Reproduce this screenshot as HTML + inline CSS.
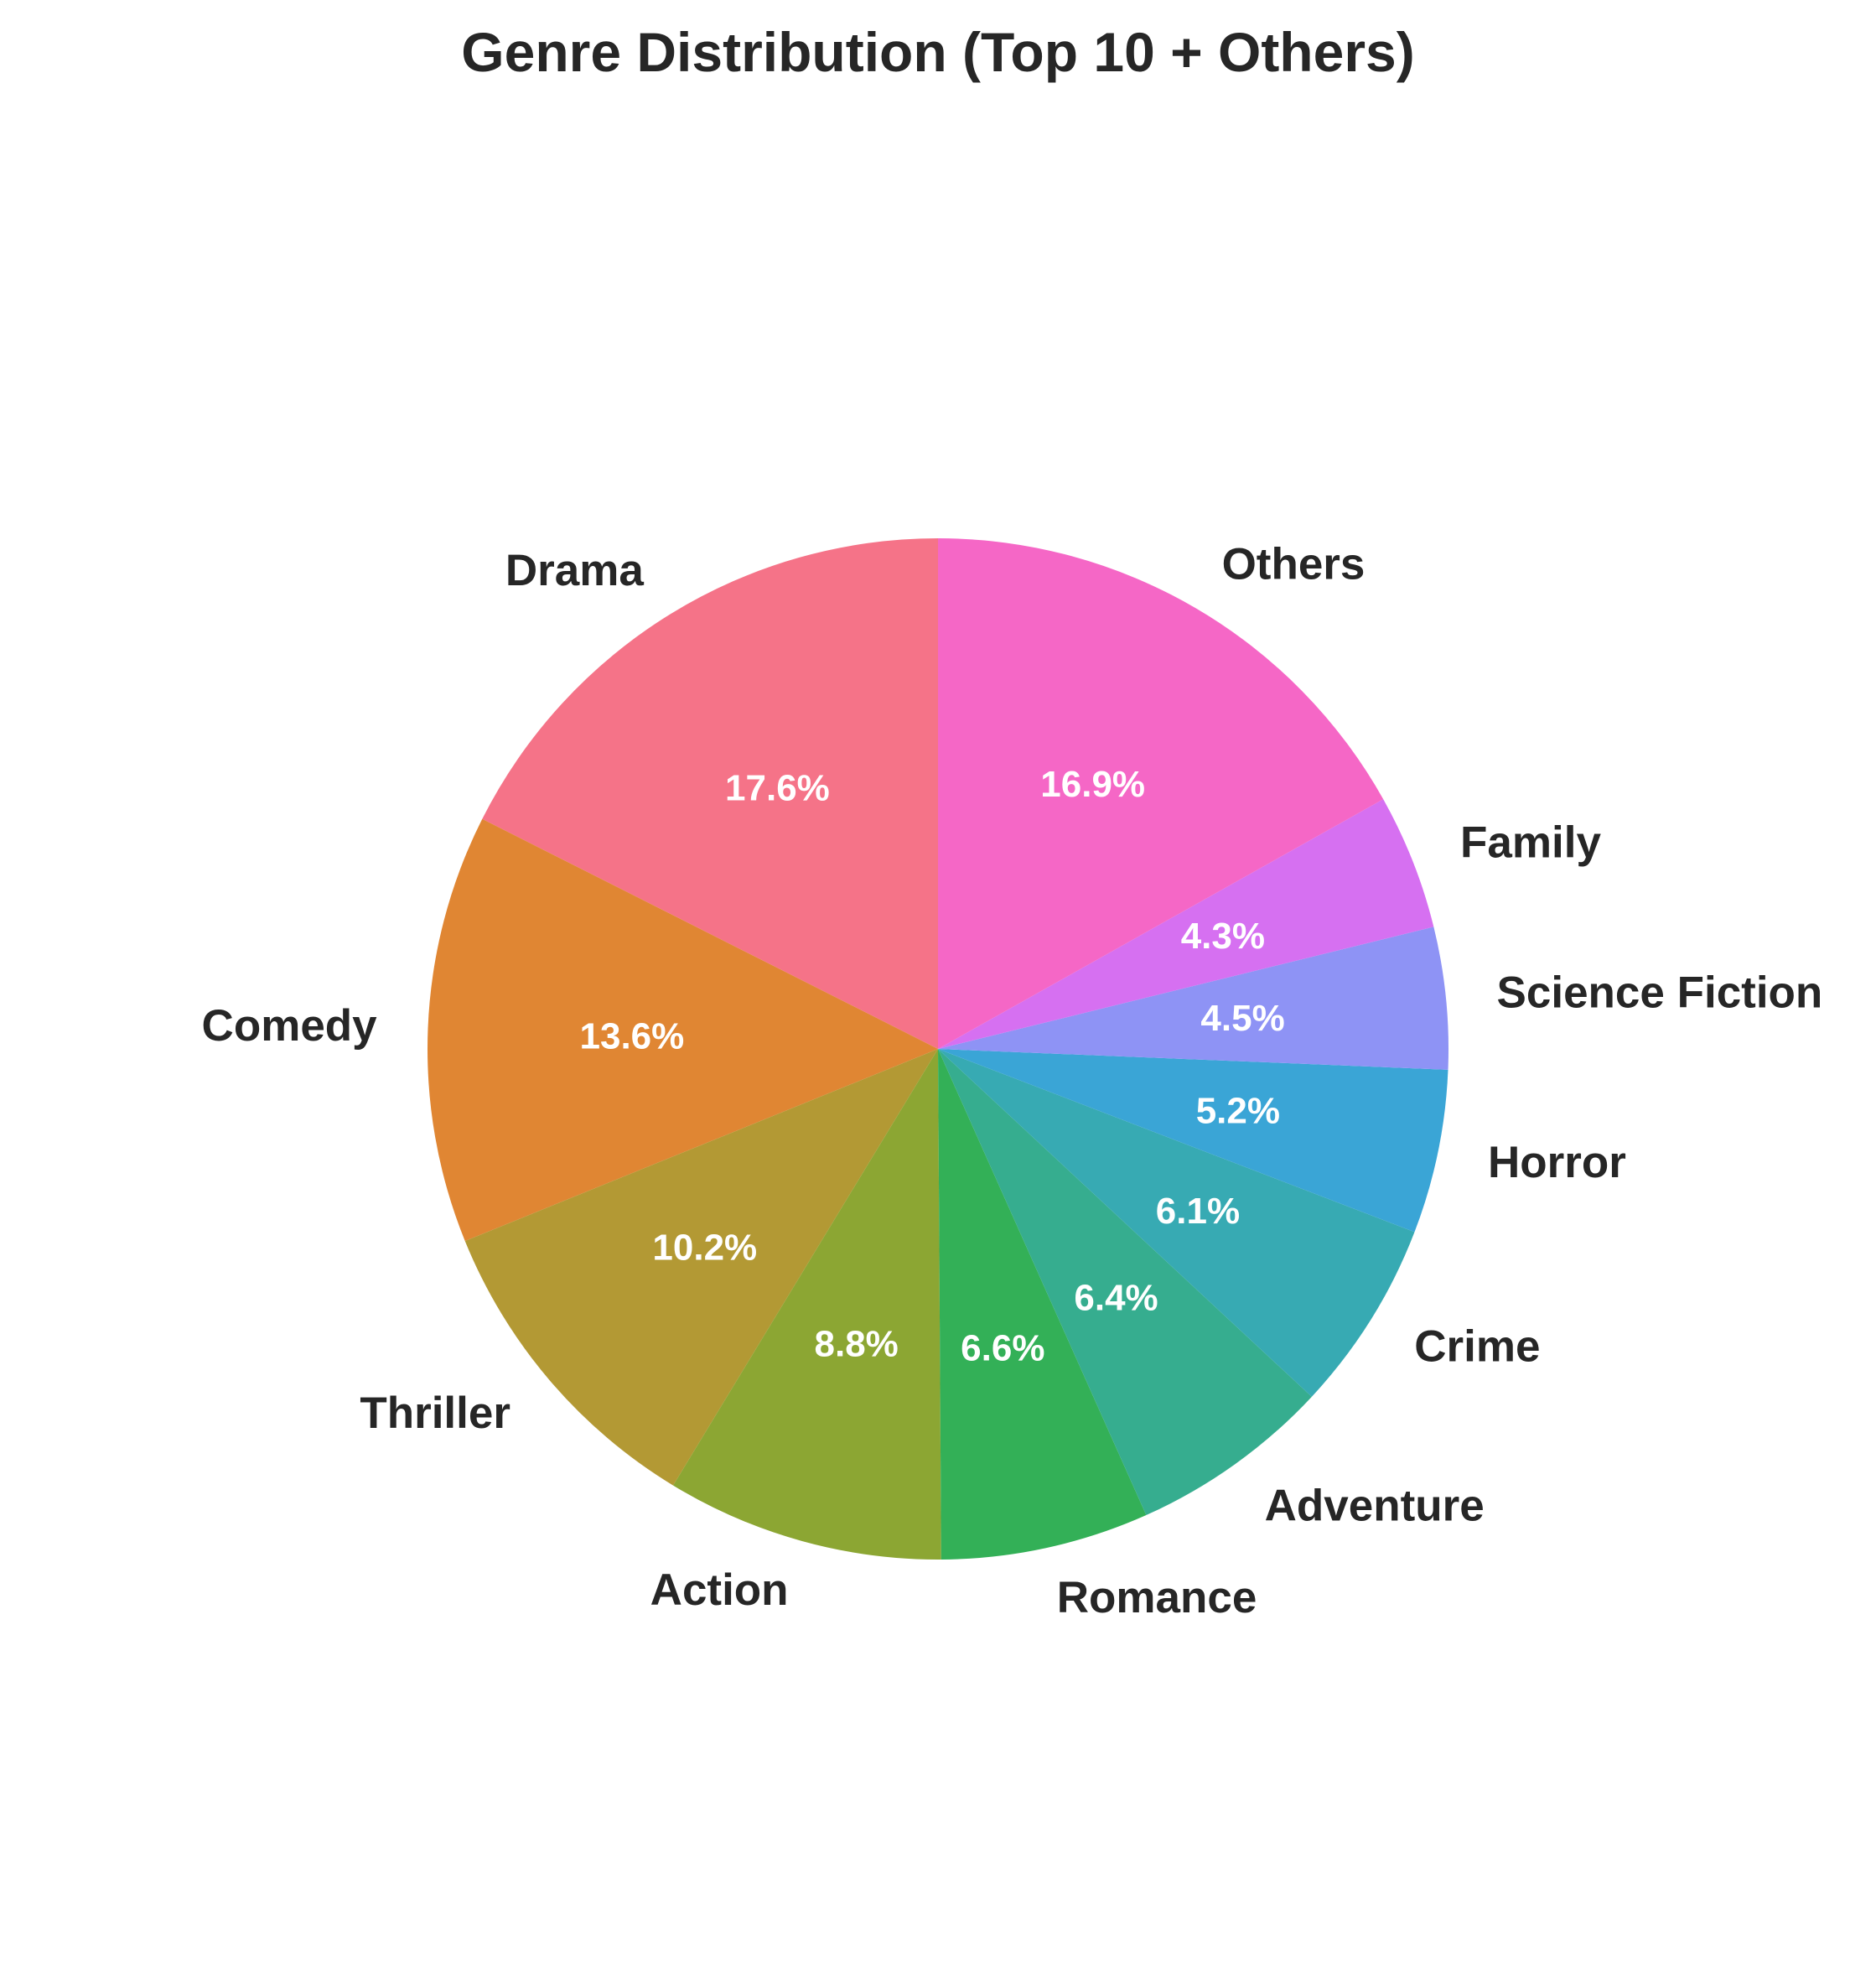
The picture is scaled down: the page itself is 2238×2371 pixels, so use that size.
<!DOCTYPE html>
<html><head><meta charset="utf-8"><style>body{margin:0;background:#fff}svg{display:block}</style></head>
<body>
<svg id="chart" width="2238" height="2371" xmlns="http://www.w3.org/2000/svg" font-family="Liberation Sans, Arial, sans-serif">
<text x="1119" y="85" text-anchor="middle" font-size="66" font-weight="bold" fill="#262626">Genre Distribution (Top 10 + Others)</text>
<g id="slices"></g><g id="labels"></g>
</svg>
<script>
const categories = ["Drama","Comedy","Thriller","Action","Romance","Adventure","Crime","Horror","Science Fiction","Family","Others"];
const values = [17.6,13.6,10.2,8.8,6.6,6.4,6.1,5.2,4.5,4.3,16.9];
const colors = ["#f57388","#e08633","#b39934","#8ca633","#33b057","#36ad8f","#37aab3","#3aa5d6","#8e93f5","#d670f1","#f567c6"];
const cx=1119, cy=1251, r=609, NS="http://www.w3.org/2000/svg";
const total = values.reduce((a,b)=>a+b,0);
const gS=document.getElementById('slices'), gL=document.getElementById('labels');
let a=90;
values.forEach((v,i)=>{
  const sweep=v/total*360, a2=a+sweep, rad=d=>d*Math.PI/180;
  const x1=cx+r*Math.cos(rad(a)), y1=cy-r*Math.sin(rad(a));
  const x2=cx+r*Math.cos(rad(a2)), y2=cy-r*Math.sin(rad(a2));
  const p=document.createElementNS(NS,'path');
  p.setAttribute('d',`M${cx},${cy}L${x1},${y1}A${r},${r} 0 ${sweep>180?1:0} 0 ${x2},${y2}Z`);
  p.setAttribute('fill',colors[i]);
  
  
  gS.appendChild(p);
  const m=rad(a+sweep/2), c=Math.cos(m), s=Math.sin(m);
  const t=document.createElementNS(NS,'text');
  t.setAttribute('x',cx+1.1*r*c); t.setAttribute('y',cy-1.1*r*s);
  t.setAttribute('text-anchor',c>=0?'start':'end'); t.setAttribute('dominant-baseline','central');
  t.setAttribute('font-size','53'); t.setAttribute('font-weight','bold'); t.setAttribute('fill','#262626');
  t.textContent=categories[i];
  
  
  gL.appendChild(t);
  const q=document.createElementNS(NS,'text');
  q.setAttribute('x',cx+0.6*r*c); q.setAttribute('y',cy-0.6*r*s);
  q.setAttribute('text-anchor','middle'); q.setAttribute('dominant-baseline','central');
  q.setAttribute('font-size','44'); q.setAttribute('font-weight','bold'); q.setAttribute('fill','#fff');
  q.textContent=(v/total*100).toFixed(1)+'%';
  
  
  gL.appendChild(q);
  a=a2;
});
</script>
</body></html>
